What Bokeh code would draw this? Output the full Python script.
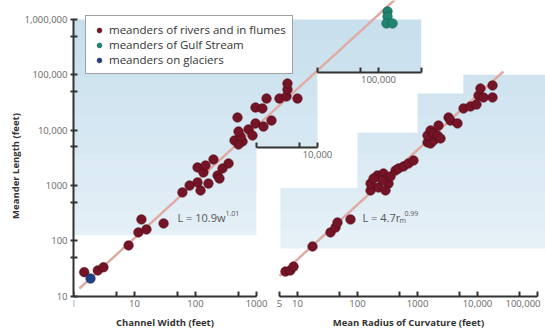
import numpy as np
from bokeh.plotting import figure
from bokeh.models import (LogAxis, LogScale, Range1d, FixedTicker, Legend,
                          LegendItem, Label)
from bokeh.embed import file_html
from bokeh.resources import INLINE

# ---------------- data ----------------
# meander length vs channel width (rivers and flumes)
river_width = [1.5, 2.5, 3.1, 8.0, 11.6, 13, 15.7, 30, 61, 80, 108, 121, 163,
               108, 135, 146, 197, 277, 348, 230, 247,
               436, 590, 507, 547, 507, 739, 860, 488, 963, 1300, 963, 1250,
               1760, 1460, 2380, 3100, 3220, 3220, 4700]
river_length_w = [27, 29, 33, 82, 141, 242, 160, 205, 745, 995, 1130, 809, 1080,
                  2110, 1710, 2290, 2940, 2020, 2490, 1510, 1330,
                  6490, 6220, 5490, 7660, 9440, 10300, 7980, 16900, 13200, 11600,
                  25600, 24600, 14900, 37200, 37200, 40500, 54200, 69600, 37200]
# Gulf Stream meanders
gulf_width = [140600, 140600, 135200, 169800]
gulf_length = [1400000, 1130000, 847000, 847000]
# glacier meanders
glacier_width = [1.9]
glacier_length = [20.7]
# meander length vs mean radius of curvature
radius = [6.3, 7.6, 8.6, 17.8, 35.5, 43, 46.4, 76.4, 165, 165, 224, 215, 271, 329,
          293, 355, 430, 482, 585, 708, 858, 261, 185,
          1470, 1650, 1850, 1470, 1650, 1850, 2150, 2420, 2240, 3290, 3550, 4640,
          5850, 7640, 9620, 10400, 12600, 17800, 11200, 17800]
river_length_r = [27.7, 28.9, 34, 78.5, 141, 173, 213, 242, 809, 1080, 916, 1510,
                  1640, 1080, 809, 1450, 1860, 2020, 2200, 2490, 2820, 1230, 1330,
                  5970, 5720, 6490, 7980, 9840, 8690, 7980, 7050, 12100, 16900,
                  14900, 13200, 24600, 26700, 29000, 42200, 38900, 38900, 56500,
                  64100]
# fitted relations shown on the chart
fit_w = {"a": 10.9, "b": 1.01, "from": 1.25, "to": 300000}
fit_r = {"a": 4.7, "b": 0.99, "from": 5.0, "to": 27000}

# ticks
y_ticks = [10, 100, 1000, 10000, 100000, 1000000]
y_tick_labels = ["10", "100", "1000", "10,000", "100,000", "1,000,000"]
y_minor = [50, 500, 5000, 50000, 500000]
w_ticks = [1, 10, 100, 1000]
w_tick_labels = ["1", "10", "100", "1000"]
w_minor = [5, 50, 500]
r_ticks = [5, 10, 100, 1000, 10000, 100000]
r_tick_labels = ["5", "10", "100", "1000", "10,000", ""]
r_minor = [50, 500, 5000, 50000]
step1_ticks = [1000, 10000]
step1_labels = ["", "10,000"]
step1_minor = [5000]
step2_ticks = [10000, 100000, 500000]
step2_labels = ["", "100,000", ""]
step2_minor = [50000]

# shaded staircases (width panel / radius panel)
shade_w_x = [1, 500000, 500000, 10000, 10000, 1000, 1000, 1]
shade_w_y = [1e6, 1e6, 110000, 110000, 4800, 4800, 125, 125]
shade_r_x = [5.2, 5.2, 100, 100, 1000, 1000, 5800, 5800, 1e6, 1e6]
shade_r_y = [72, 900, 900, 9000, 9000, 46000, 46000, 1e5, 1e5, 72]

# ---------------- layout geometry ----------------
W, H = 545, 331
LEFT = 73
AXIS_PX = 295.5           # pixel row of the value 10 on the length axis
DEC_Y, DEC_W, DEC_R = 55.3, 61.0, 60.0
FRAME_W = W - LEFT
y_start = 10 ** (1 - (H - AXIS_PX) / DEC_Y)
y_end = 10 ** (1 + AXIS_PX / DEC_Y)
y_axis_loc = 10 ** (1 - 0.5 / DEC_Y)
x_end = 10 ** (FRAME_W / DEC_W)
r_start = 10 ** (-164 / DEC_R)
r_end = r_start * 10 ** (FRAME_W / DEC_R)

FONT = "Open Sans"
RED, GREEN, BLUE = "#741426", "#1f8470", "#1f3f86"

p = figure(width=W, height=H, x_axis_type="log", y_axis_type="log",
           x_range=Range1d(1, x_end), y_range=Range1d(y_start, y_end),
           output_backend="svg", toolbar_location=None,
           min_border_left=LEFT, min_border_right=0, min_border_top=0,
           min_border_bottom=0)
p.extra_x_ranges = {"r": Range1d(r_start, r_end)}
p.extra_x_scales = {"r": LogScale()}
p.outline_line_color = None
p.xgrid.visible = False
p.ygrid.visible = False
p.background_fill_color = "white"
p.border_fill_color = "white"

# shading
p.patch(shade_w_x, shade_w_y, fill_color="#c6deed", line_color=None)
p.patch(shade_r_x, shade_r_y, fill_color="#c6deed", line_color=None,
        x_range_name="r")
edges = np.linspace(np.log10(70), 6.0, 13)
alphas = [0.55 * (1 - i / 12) for i in range(12)]
p.quad(left=1, right=x_end, bottom=10 ** edges[:-1], top=10 ** edges[1:],
       fill_color="white", fill_alpha=alphas, line_color=None)

# fitted lines
wl = np.array([fit_w["from"], fit_w["to"]])
rl = np.array([fit_r["from"], fit_r["to"]])
p.line(wl, fit_w["a"] * wl ** fit_w["b"], line_color="#dfaba3", line_width=2.5)
p.line(rl, fit_r["a"] * rl ** fit_r["b"], line_color="#dfaba3", line_width=2.5,
       x_range_name="r")

pt = dict(size=9.5, line_width=0.6)
r_riv = p.scatter(river_width, river_length_w, fill_color=RED, line_color="#4f0a16", **pt)
p.scatter(radius, river_length_r, fill_color=RED, line_color="#4f0a16",
          x_range_name="r", **pt)
r_gulf = p.scatter(gulf_width, gulf_length, fill_color=GREEN, line_color="#145c4e", **pt)
r_gla = p.scatter(glacier_width, glacier_length, fill_color=BLUE, line_color="#14285a", **pt)


def style(ax, tick_in=5, tick_out=0):
    ax.axis_line_color = "#333333"
    ax.axis_line_width = 2
    for k in ("major", "minor"):
        setattr(ax, k + "_tick_line_color", "#333333")
        setattr(ax, k + "_tick_line_width", 2)
        setattr(ax, k + "_tick_in", tick_in)
        setattr(ax, k + "_tick_out", tick_out)
    ax.major_label_text_font = FONT
    ax.major_label_text_font_size = "9.5px"
    ax.major_label_text_color = "#666666"
    ax.major_label_standoff = 3
    ax.axis_label_text_font = FONT
    ax.axis_label_text_font_size = "9.5px"
    ax.axis_label_text_font_style = "bold"
    ax.axis_label_text_color = "#333333"
    ax.axis_label_standoff = 6


yax = p.yaxis[0]
yax.ticker = FixedTicker(ticks=y_ticks, minor_ticks=y_minor)
yax.major_label_overrides = dict(zip(y_ticks, y_tick_labels))
yax.bounds = (10, 1e6)
yax.axis_label = "Meander Length (feet)"
style(yax, tick_in=4, tick_out=3)
yax.axis_label_standoff = 0

xax = p.xaxis[0]
xax.ticker = FixedTicker(ticks=w_ticks, minor_ticks=w_minor)
xax.major_label_overrides = dict(zip(w_ticks, w_tick_labels))
xax.bounds = (1, 1000)
xax.fixed_location = y_axis_loc
xax.axis_label = "Channel Width (feet)"
style(xax)

rax = LogAxis(x_range_name="r", fixed_location=y_axis_loc, bounds=(5, 1e5),
              ticker=FixedTicker(ticks=r_ticks, minor_ticks=r_minor),
              major_label_overrides=dict(zip(r_ticks, r_tick_labels)),
              axis_label="Mean Radius of Curvature (feet)")
style(rax)
p.add_layout(rax, "below")

s1 = LogAxis(fixed_location=4800, bounds=(1000, 10000),
             ticker=FixedTicker(ticks=step1_ticks, minor_ticks=step1_minor),
             major_label_overrides=dict(zip(step1_ticks, step1_labels)))
style(s1)
p.add_layout(s1, "below")
s2 = LogAxis(fixed_location=110000, bounds=(10000, 500000),
             ticker=FixedTicker(ticks=step2_ticks, minor_ticks=step2_minor),
             major_label_overrides=dict(zip(step2_ticks, step2_labels)))
style(s2)
p.add_layout(s2, "below")

p.add_layout(Label(x=1e5, y=y_axis_loc, x_range_name="r", text="100,000",
                   text_align="right", text_baseline="top", x_offset=3, y_offset=-3,
                   text_font=FONT, text_font_size="9.5px", text_color="#666666"))

# equations
eq = dict(text_font=FONT, text_color="#555555", text_baseline="middle")
p.add_layout(Label(x=50.7, y=263, text="L = 10.9w", text_font_size="11px", **eq))
p.add_layout(Label(x=50.7, y=263, x_offset=48, y_offset=4, text="1.01",
                   text_font_size="7px", **eq))
p.add_layout(Label(x=121, y=263, x_range_name="r", text="L = 4.7r",
                   text_font_size="11px", **eq))
p.add_layout(Label(x=121, y=263, x_range_name="r", x_offset=37, y_offset=-3,
                   text="m", text_font_size="7px", **eq))
p.add_layout(Label(x=121, y=263, x_range_name="r", x_offset=42, y_offset=4,
                   text="0.99", text_font_size="7px", **eq))

legend = Legend(items=[
    LegendItem(label="meanders of rivers and in flumes", renderers=[r_riv]),
    LegendItem(label="meanders of Gulf Stream", renderers=[r_gulf]),
    LegendItem(label="meanders on glaciers", renderers=[r_gla]),
], location=(12, H - 74))
legend.border_line_color = "#444444"
legend.border_line_width = 1.5
legend.background_fill_color = "white"
legend.background_fill_alpha = 1
legend.label_text_font = FONT
legend.label_text_font_size = "11.5px"
legend.label_text_color = "#333333"
legend.glyph_width = 14
legend.glyph_height = 12
legend.label_height = 12
legend.label_standoff = 3
legend.spacing = 0
legend.padding = 6
legend.margin = 0
p.add_layout(legend)

open("out.html", "w").write(file_html(p, INLINE))
